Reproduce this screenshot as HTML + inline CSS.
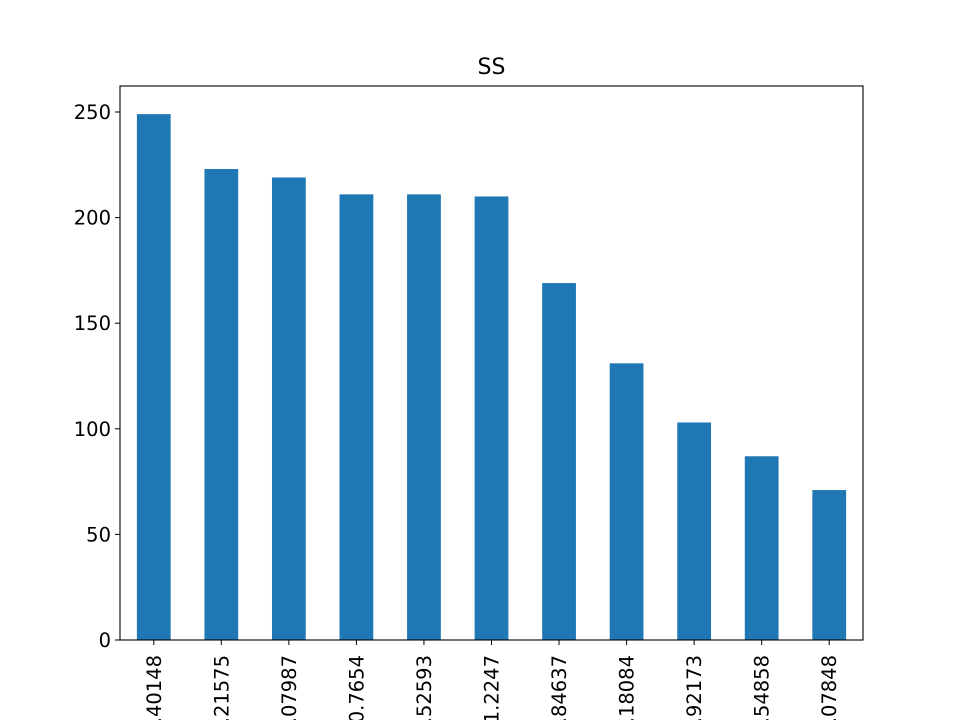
<!DOCTYPE html>
<html><head><meta charset="utf-8"><style>
html,body{margin:0;padding:0;background:#fff;}
svg{display:block;font-family:"DejaVu Sans","Liberation Sans",sans-serif;}
</style></head><body>
<svg id="chart" width="960" height="720" viewBox="0 0 960 720">
<rect x="0" y="0" width="960" height="720" fill="#fff"/>
<text x="491.5" y="74" text-anchor="middle" font-size="22" fill="#000">SS</text>
<g id="bars"></g>
<g id="yaxis"></g>
<g id="xaxis"></g>
<rect x="120" y="86" width="743" height="554" fill="none" stroke="#000" stroke-width="1.1"/>
</svg>
<script>
const categories = ["1.40148","0.21575","0.07987","0.7654","0.52593","1.2247","0.84637","0.18084","0.92173","0.54858","0.07848"];
const values = [249,223,219,211,211,210,169,131,103,87,71];
const yTicks = [0,50,100,150,200,250];

const L=120,R=863,T=86,B=640;
const ns="http://www.w3.org/2000/svg";
const band=(R-L)/categories.length;
function x(i){return L+band*(i+0.5);}
function y(v){return B-(B-112)*v/250;}
const bars=document.getElementById('bars'),ya=document.getElementById('yaxis'),xa=document.getElementById('xaxis');
function mk(tag,attrs,parent){const e=document.createElementNS(ns,tag);for(const k in attrs)e.setAttribute(k,attrs[k]);parent.appendChild(e);return e;}
values.forEach((v,i)=>{
  const w=band*0.5;
  const r=mk('rect',{x:x(i)-w/2,y:y(v),width:w,height:B-y(v),fill:'#1f77b4'},bars);
  
  
  const t=mk('line',{x1:x(i),x2:x(i),y1:B,y2:B+5,stroke:'#000','stroke-width':1},xa);
  
  
  const lb=mk('text',{x:0,y:0,'font-size':'19.5','text-anchor':'end',fill:'#000',transform:'translate('+(x(i)+7)+','+(B+15)+') rotate(-90)'},xa);
  lb.textContent=categories[i];
  
  
});
yTicks.forEach(v=>{
  const t=mk('line',{x1:L-5,x2:L,y1:y(v),y2:y(v),stroke:'#000','stroke-width':1},ya);
  
  
  const lb=mk('text',{x:L-9,y:y(v)+7,'font-size':'19.5','text-anchor':'end',fill:'#000'},ya);
  lb.textContent=v;
  
  
});
</script>
</body></html>
